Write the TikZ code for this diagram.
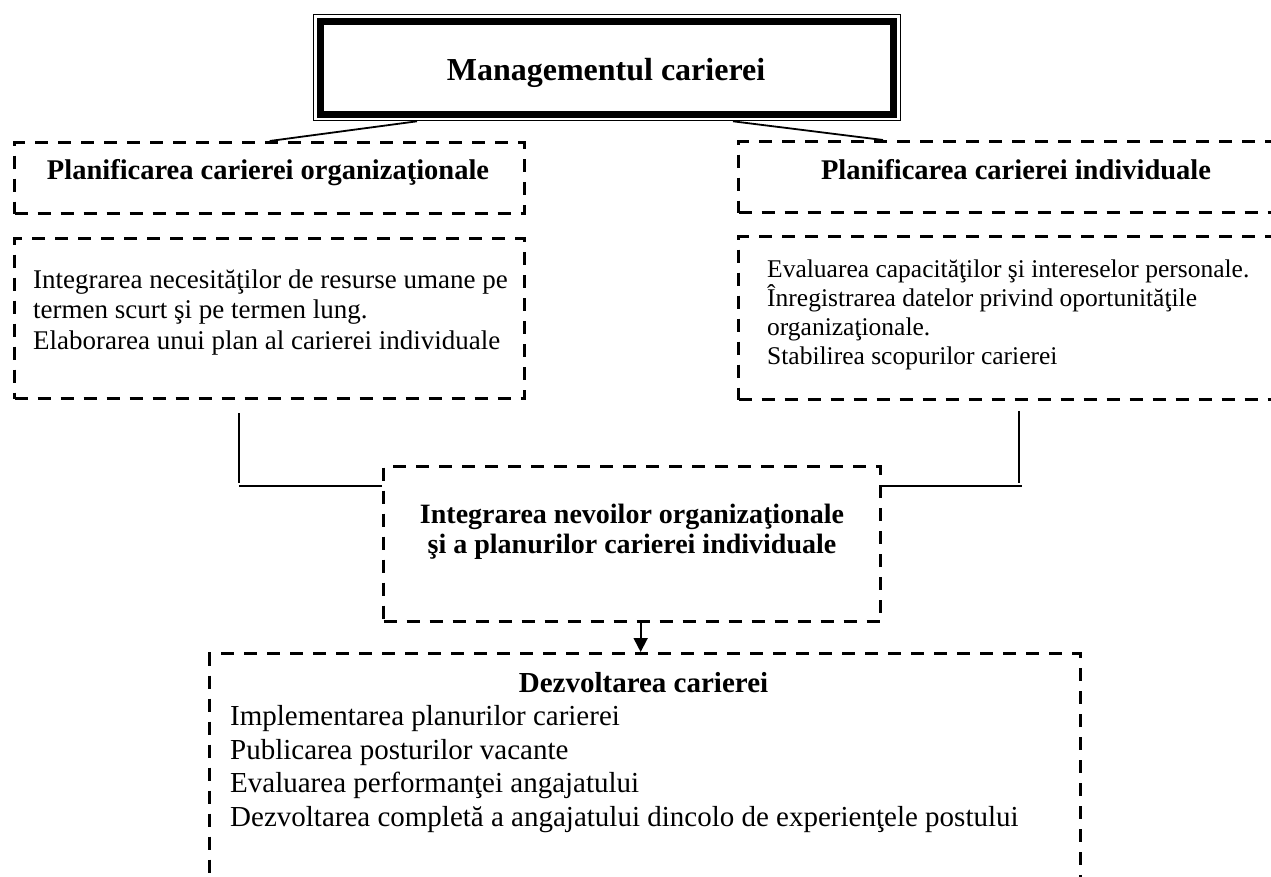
\documentclass[tikz,border=0pt]{standalone}
\usepackage{fontspec}
\setmainfont{Liberation Serif}
\usetikzlibrary{calc,arrows.meta}
\begin{document}
\begin{tikzpicture}[x=1pt,y=-1pt,
  dbox/.style={draw, dash pattern=on 13pt off 10pt, line width=3.3pt, inner sep=0pt, anchor=north west},
  conn/.style={line width=1.8pt},
  head/.style={font=\fontsize{28.5}{34}\selectfont\bfseries, inner sep=0pt, anchor=base},
  body/.style={font=\fontsize{27}{31}\selectfont, inner sep=0pt, anchor=base west},
  rbody/.style={font=\fontsize{25.5}{29}\selectfont, inner sep=0pt, anchor=base west},
  lbody/.style={font=\fontsize{29}{34}\selectfont, inner sep=0pt, anchor=base west}]
\useasboundingbox (0,0) rectangle (1271,877);
\clip (0,0) rectangle (1271,877);
% top box
\node[draw, line width=1.3pt, minimum width=587.5pt, minimum height=106pt, inner sep=0pt, anchor=north west] (mgmt) at (312.5,14) {};
\draw[line width=7pt] ($(mgmt.north west)+(8,7.5)$) rectangle ($(mgmt.south east)+(-8,-6.5)$);
\node[font=\fontsize{32}{38}\selectfont\bfseries, inner sep=0pt, anchor=base] (mgmtt) at (606,81) {Managementul carierei};
% boxes
\node[dbox, minimum width=510pt, minimum height=71pt] (org1) at (13,141) {};
\node[dbox, minimum width=510pt, minimum height=160pt] (org2) at (13,237) {};
\node[dbox, minimum width=556pt, minimum height=71pt] (ind1) at (737,140) {};
\node[dbox, minimum width=556pt, minimum height=163pt] (ind2) at (737,235) {};
\node[dbox, minimum width=497pt, minimum height=155pt] (mid) at (382,465) {};
\node[dbox, minimum width=871pt, minimum height=260pt] (dev) at (208,652) {};
% headings
\node[head] (org1t) at (268,180) {Planificarea carierei organizaţionale};
\node[head] (ind1t) at (1016,180) {Planificarea carierei individuale};
% left texts
\node[body] (o1) at (33,288) {Integrarea necesităţilor de resurse umane pe};
\node[body] (o2) at (33,318) {termen scurt şi pe termen lung.};
\node[body] (o3) at (33,349) {Elaborarea unui plan al carierei individuale};
% right texts
\node[rbody] (i1) at (767,277) {Evaluarea capacităţilor şi intereselor personale.};
\node[rbody] (i2) at (767,306) {Înregistrarea datelor privind oportunităţile};
\node[rbody] (i3) at (767,335) {organizaţionale.};
\node[rbody] (i4) at (767,364) {Stabilirea scopurilor carierei};
% middle
\node[head, font=\fontsize{28}{34}\selectfont\bfseries] (m1) at (632,523) {Integrarea nevoilor organizaţionale};
\node[head, font=\fontsize{28}{34}\selectfont\bfseries] (m2) at (632,553) {şi a planurilor carierei individuale};
% bottom
\node[head, font=\fontsize{29}{34}\selectfont\bfseries] (devt) at (643.5,692) {Dezvoltarea carierei};
\node[lbody] (d1) at (230,725) {Implementarea planurilor carierei};
\node[lbody] (d2) at (230,759) {Publicarea posturilor vacante};
\node[lbody] (d3) at (230,792) {Evaluarea performanţei angajatului};
\node[lbody] (d4) at (230,826) {Dezvoltarea completă a angajatului dincolo de experienţele postului};
% connectors
\draw[conn] ([xshift=104.5pt]mgmt.south west) -- (org1.north);
\draw[conn] ([xshift=420.5pt]mgmt.south west) -- ([xshift=146pt]ind1.north west);
\draw[conn] ($(org2.south west)+(226,13)$) -- ++(0,70) ($(mid.north west)+(0,21)$) -- ++(-143,0);
\draw[conn] ($(ind2.south west)+(282,10)$) -- ++(0,72) ($(mid.north east)+(0,21)$) -- ++(140,0);
\draw[conn, -{Triangle[length=14pt,width=14pt]}] ($(mid.south)+(8.5,0)$) coordinate (as) -- (as |- dev.north);
\end{tikzpicture}
\end{document}
